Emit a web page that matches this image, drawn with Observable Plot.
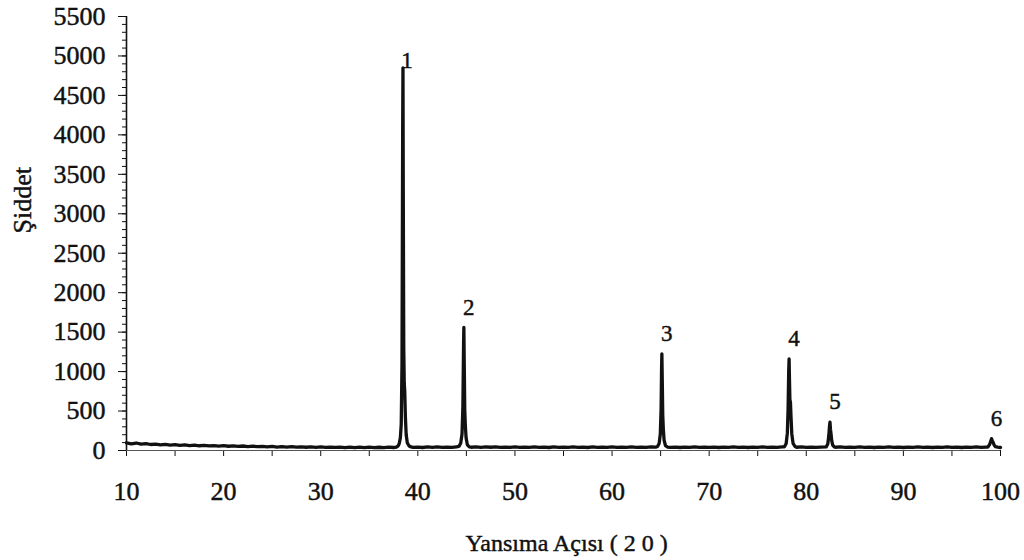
<!DOCTYPE html>
<html>
<head>
<meta charset="utf-8">
<script src="https://cdn.jsdelivr.net/npm/d3@7"></script>
<script src="https://cdn.jsdelivr.net/npm/@observablehq/plot@0.6"></script>
<style>
  html, body { margin: 0; padding: 0; background: #fff; }
  #chart svg { display: block; }
  #chart svg text {
    font-family: 'Liberation Serif', 'Times New Roman', serif !important;
    font-variant: normal !important;
    stroke: #111; stroke-width: 0.45px;
  }
</style>
</head>
<body>
<div id="chart"></div>
<script>
// X-ray diffraction scan: reflection angle (2θ, degrees) and intensity (counts)
const twoTheta = [
  10.0, 10.5, 11.0, 11.5, 12.0, 12.5, 13.0, 13.5, 14.0, 14.5,
  15.0, 15.5, 16.0, 16.5, 17.0, 17.5, 18.0, 18.5, 19.0, 19.5,
  20.0, 20.5, 21.0, 21.5, 22.0, 22.5, 23.0, 23.5, 24.0, 24.5,
  25.0, 25.5, 26.0, 26.5, 27.0, 27.5, 28.0, 28.5, 29.0, 29.5,
  30.0, 30.5, 31.0, 31.5, 32.0, 32.5, 33.0, 33.5, 34.0, 34.5,
  35.0, 35.5, 36.0, 36.5, 37.0, 37.5, 37.8,
  // peak 1
  37.95, 38.08, 38.2, 38.29, 38.37, 38.44, 38.47, 38.5, 38.55, 38.6, 38.65, 38.72, 38.8, 38.92, 39.1, 39.3,
  39.5, 40.0, 40.5, 41.0, 41.5, 42.0, 42.5, 43.0, 43.5, 44.0,
  // peak 2
  44.25, 44.42, 44.55, 44.64, 44.71, 44.74, 44.78, 44.83, 44.89, 44.97, 45.1, 45.3,
  45.5, 46.0, 46.5, 47.0, 47.5, 48.0, 48.5, 49.0, 49.5, 50.0,
  50.5, 51.0, 51.5, 52.0, 52.5, 53.0, 53.5, 54.0, 54.5, 55.0,
  55.5, 56.0, 56.5, 57.0, 57.5, 58.0, 58.5, 59.0, 59.5, 60.0,
  60.5, 61.0, 61.5, 62.0, 62.5, 63.0, 63.5, 64.0, 64.5,
  // peak 3
  64.68, 64.85, 64.97, 65.05, 65.1, 65.13, 65.17, 65.22, 65.28, 65.36, 65.5, 65.7,
  66.0, 66.5, 67.0, 67.5, 68.0, 68.5, 69.0, 69.5, 70.0,
  70.5, 71.0, 71.5, 72.0, 72.5, 73.0, 73.5, 74.0, 74.5, 75.0,
  75.5, 76.0, 76.5, 77.0, 77.5, 77.75,
  // peak 4
  77.93, 78.05, 78.13, 78.19, 78.23, 78.27, 78.31, 78.37, 78.43, 78.51, 78.64, 78.85,
  79.0, 79.5, 80.0, 80.5, 81.0, 81.5, 82.05,
  // peak 5
  82.22, 82.32, 82.4, 82.44, 82.49, 82.55, 82.62, 82.72, 82.88,
  83.0, 83.5, 84.0, 84.5, 85.0, 85.5, 86.0, 86.5, 87.0, 87.5,
  88.0, 88.5, 89.0, 89.5, 90.0, 90.5, 91.0, 91.5, 92.0, 92.5,
  93.0, 93.5, 94.0, 94.5, 95.0, 95.5, 96.0, 96.5, 97.0, 97.5,
  98.0, 98.5, 98.7,
  // peak 6
  98.88, 99.0, 99.08, 99.15, 99.23, 99.34, 99.48, 99.7, 100.0
];

const counts = [
  98, 84, 95, 80, 88, 76, 82, 72, 78, 68,
  74, 64, 71, 62, 68, 60, 65, 58, 63, 55,
  61, 54, 59, 52, 57, 50, 55, 48, 53, 46,
  51, 44, 49, 43, 48, 42, 47, 41, 46, 40,
  45, 39, 44, 39, 43, 37, 43, 37, 42, 36,
  42, 37, 41, 36, 42, 38, 44,
  55, 85, 160, 330, 1100, 4100, 4850, 3300, 1300, 850, 760, 420, 200, 95, 58, 45,
  39, 44, 38, 45, 39, 45, 40, 44, 39, 45,
  55, 95, 210, 560, 1350, 1560, 1100, 520, 320, 160, 72, 47,
  41, 46, 40, 46, 41, 45, 39, 44, 39, 45,
  40, 44, 39, 45, 40, 44, 38, 45, 40, 44,
  39, 45, 40, 44, 38, 45, 40, 44, 39, 45,
  40, 44, 39, 45, 40, 44, 39, 45, 42,
  50, 90, 210, 530, 1050, 1225, 900, 450, 270, 130, 62, 44,
  40, 44, 38, 44, 39, 45, 39, 44, 39,
  44, 38, 44, 39, 45, 39, 44, 38, 44, 40,
  45, 39, 44, 40, 45, 47,
  88, 220, 540, 1000, 1160, 900, 650, 610, 420, 210, 90, 50,
  41, 45, 39, 44, 39, 44, 45,
  85, 190, 320, 360, 270, 210, 125, 68, 46,
  41, 45, 39, 44, 39, 45, 39, 44, 38, 44,
  39, 45, 39, 44, 38, 44, 39, 45, 39, 44,
  38, 44, 39, 45, 39, 44, 38, 44, 39, 45,
  40, 44, 44,
  75, 120, 150, 125, 108, 70, 48, 42, 38
];

// Numbered reflections
const peakNo = [1, 2, 3, 4, 5, 6];
const peakAngle = [38.47, 44.74, 65.13, 78.23, 82.44, 99.08];
const peakHeight = [4850, 1560, 1225, 1160, 360, 150];

// Axis ticks
const yMajorTicks = d3.range(0, 5501, 500);
const yMinorTicks = d3.range(0, 5501, 100);
const xLabelTicks = d3.range(10, 101, 10);
const xTickMarks = d3.range(10, 101, 5);

const xTitle = "Yansıma Açısı ( 2 0 )";
const yTitle = "Şiddet";

const scan = twoTheta.map((a, i) => ({angle: a, value: counts[i]}));
const peaks = peakNo.map((n, i) => ({n, angle: peakAngle[i], value: peakHeight[i]}));

const serif = "'Liberation Serif', 'Times New Roman', serif";
const ink = "#111";
const plain = d3.format("d");

const chart = Plot.plot({
  width: 1024,
  height: 560,
  marginLeft: 126,
  marginRight: 24,
  marginTop: 16,
  marginBottom: 110,
  style: {fontFamily: serif, fontSize: "24px", color: ink, background: "#fff"},
  x: {domain: [10, 100]},
  y: {domain: [0, 5500]},
  marks: [
    // y axis: labelled major ticks and short minor ticks
    Plot.axisY({ticks: yMajorTicks, tickSize: 8, tickPadding: 13, tickFormat: plain, label: null,
                fontSize: 26, stroke: ink, fill: ink}),
    Plot.axisY({ticks: yMinorTicks, tickSize: 4, tickFormat: () => "", label: null, stroke: ink}),
    // x axis: labels every 10°, tick marks every 5°
    Plot.axisX({ticks: xLabelTicks, tickSize: 0, tickPadding: 31, tickFormat: plain, label: null,
                fontSize: 26, fill: ink}),
    Plot.axisX({ticks: xTickMarks, tickSize: 6, tickFormat: () => "", label: null, stroke: ink}),
    // axis lines
    Plot.ruleX([10], {stroke: ink, strokeWidth: 1.6}),
    Plot.ruleY([0], {stroke: "#555", strokeWidth: 1.2}),
    // diffraction pattern
    Plot.line(scan, {x: "angle", y: "value", stroke: ink, strokeWidth: 3.3,
                     strokeLinejoin: "round", curve: "linear"}),
    // peak numbers
    Plot.text(peaks.filter(p => p.n === 1), {x: "angle", y: "value", text: d => String(d.n),
      dx: 4, dy: -7, lineAnchor: "middle", fontSize: 23, fill: ink}),
    Plot.text(peaks.filter(p => p.n !== 1), {x: "angle", y: "value", text: d => String(d.n),
      dx: 5, dy: -20, lineAnchor: "middle", fontSize: 23, fill: ink}),
    // axis titles
    Plot.text([xTitle], {frameAnchor: "bottom", dy: 93, dx: 3, lineAnchor: "middle",
      fontSize: 24, fill: ink}),
    Plot.text([yTitle], {frameAnchor: "left", dx: -104, rotate: -90, lineAnchor: "middle",
      fontSize: 26, fill: ink})
  ]
});

document.getElementById("chart").appendChild(chart);
</script>
</body>
</html>
